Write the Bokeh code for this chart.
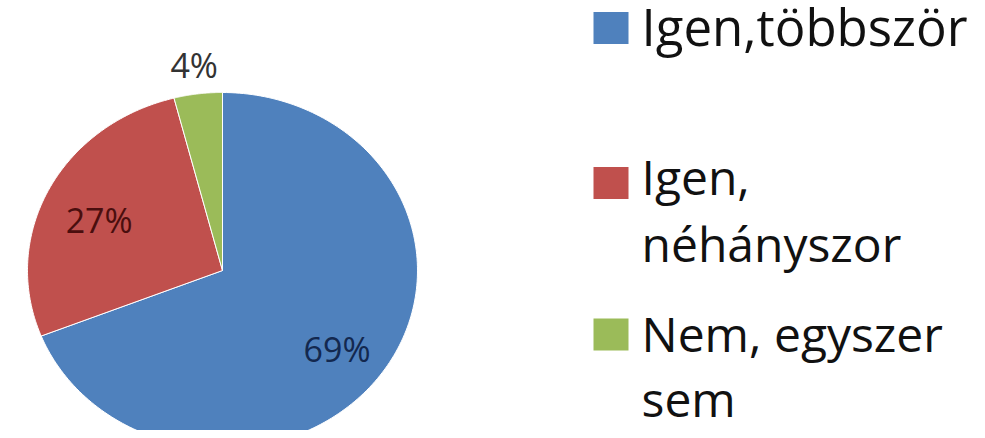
import numpy as np
from bokeh.plotting import figure
from bokeh.models import Range1d, ColumnDataSource
from bokeh.core.properties import value
from bokeh.embed import file_html
from bokeh.resources import INLINE

# ---- data ----
categories = ["Igen, többször", "Igen, néhányszor", "Nem, egyszer sem"]
legend_lines = [["Igen,többször"], ["Igen,", "néhányszor"], ["Nem, egyszer", "sem"]]
shares = [69, 27, 4]
labels = ["69%", "27%", "4%"]
colors = ["#4f81bd", "#c0504d", "#9bbb59"]
label_colors = ["#13284f", "#4a0e0e", "#333333"]

# ---- layout ----
W, H = 977, 430
CX, CY = 222, 270
RX, RY = 195, 178
FONT = "Open Sans"

p = figure(width=W, height=H, x_range=Range1d(0, W), y_range=Range1d(H, 0),
           output_backend="svg", toolbar_location=None, min_border=0,
           x_axis_location=None, y_axis_location=None)
p.grid.visible = False
p.outline_line_color = None
p.background_fill_color = "white"
p.border_fill_color = "white"

# pie slices: clockwise from 12 o'clock, slightly elliptical
total = float(sum(shares))
fr = np.cumsum([0] + shares) / total
xs, ys = [], []
lx, ly = [], []
for i in range(len(shares)):
    t = np.linspace(fr[i], fr[i + 1], 200) * 2 * np.pi
    xs.append([CX] + list(CX + RX * np.sin(t)) + [CX])
    ys.append([CY] + list(CY - RY * np.cos(t)) + [CY])
    tm = (fr[i] + fr[i + 1]) / 2 * 2 * np.pi
    rf = 0.71 if shares[i] >= 10 else 1.16
    lx.append(CX + rf * RX * np.sin(tm))
    ly.append(CY - rf * RY * np.cos(tm) + (7 if shares[i] >= 10 else -1))

src = ColumnDataSource(dict(xs=xs, ys=ys, color=colors, cat=categories))
p.patches("xs", "ys", source=src, fill_color="color", line_color="white", line_width=1)

lsrc = ColumnDataSource(dict(x=lx, y=ly, text=labels, color=label_colors))
p.text("x", "y", text="text", source=lsrc, text_color="color",
       text_font=value(FONT), text_font_size="34px",
       text_align="center", text_baseline="middle")

# legend drawn manually
sq_x = 610.5
sq_y = [27.5, 182.5, 334]
p.rect(x=[sq_x] * 3, y=sq_y, width=35, height=32, fill_color=colors, line_color=None)

line_y = [[25], [176, 243], [333, 398]]
sizes = ["51px", "48px", "48px"]
for i in range(3):
    tx = [641] * len(legend_lines[i])
    p.text(x=tx, y=line_y[i], text=legend_lines[i], text_font=value(FONT),
           text_font_size=sizes[i], text_color="#111111",
           text_align="left", text_baseline="alphabetic")

open("out.html", "w").write(file_html(p, INLINE))
